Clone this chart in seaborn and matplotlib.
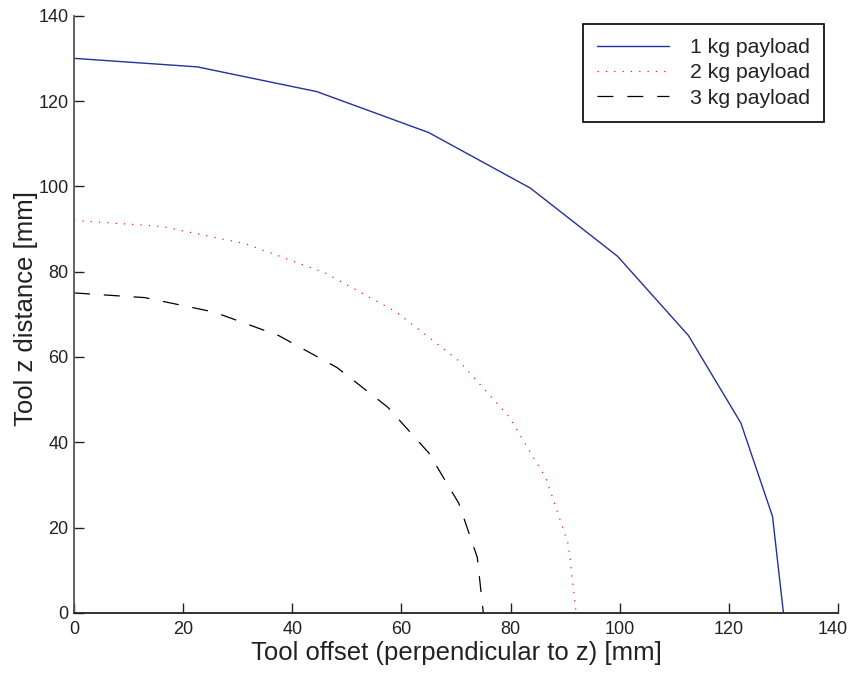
import matplotlib
matplotlib.use("Agg")
import matplotlib.pyplot as plt
import matplotlib.transforms as mtransforms
import seaborn as sns
import pandas as pd

# Data
x_1kg = [0.0, 22.6, 44.5, 65.0, 83.6, 99.6, 112.6, 122.2, 128.0, 130.0]
z_1kg = [130.0, 128.0, 122.2, 112.6, 99.6, 83.6, 65.0, 44.5, 22.6, 0.0]
x_2kg = [0.0, 16.0, 31.5, 46.0, 59.1, 70.5, 79.7, 86.5, 90.6, 92.0]
z_2kg = [92.0, 90.6, 86.5, 79.7, 70.5, 59.1, 46.0, 31.5, 16.0, 0.0]
x_3kg = [0.0, 13.0, 25.7, 37.5, 48.2, 57.5, 65.0, 70.5, 73.9, 75.0]
z_3kg = [75.0, 73.9, 70.5, 65.0, 57.5, 48.2, 37.5, 25.7, 13.0, 0.0]
labels = ["1 kg payload", "2 kg payload", "3 kg payload"]
ticks = [0, 20, 40, 60, 80, 100, 120, 140]

sns.set_style("ticks")
plt.rcParams['font.family'] = ['Liberation Sans', 'DejaVu Sans']
plt.rcParams['lines.scale_dashes'] = False

fig = plt.figure(figsize=(8.49, 6.73), dpi=100)
ax = fig.add_axes([74/849, 1-612.8/673, 764/849, (612.8-15.7)/673])

styles = [
    dict(color="#23319c", linestyle="-", linewidth=1.0),
    dict(color="#ff1a1a", linestyle=(0, (0.9, 5.1)), linewidth=0.9),
    dict(color="black", linestyle=(0, (11.5, 10.0)), linewidth=0.9),
]
for xs, zs, lab, st in zip([x_1kg, x_2kg, x_3kg], [z_1kg, z_2kg, z_3kg], labels, styles):
    df = pd.DataFrame({"x": xs, "z": zs})
    sns.lineplot(data=df, x="x", y="z", sort=False, ax=ax, label=lab, **st)

ax.set_xlim(0, 140)
ax.set_ylim(0, 140)
ax.set_xticks(ticks)
ax.set_yticks(ticks)
ax.tick_params(direction="in", length=7, width=1.0, labelsize=13, colors="#222222")
ax.tick_params(axis="x", pad=6)
ax.tick_params(axis="y", pad=4)
for s in ["top", "right"]:
    ax.spines[s].set_visible(False)
ax.spines["left"].set_color("#555555")
ax.spines["bottom"].set_color("#222222")
ax.spines["left"].set_linewidth(1.3)
ax.spines["bottom"].set_linewidth(1.3)

# keep the last x tick label inside the figure (as in the reference)
last = ax.xaxis.get_major_ticks()[-1].label1
last.set_transform(last.get_transform() +
                   mtransforms.ScaledTranslation(-5/100, 0, fig.dpi_scale_trans))

ax.set_xlabel("Tool offset (perpendicular to z) [mm]", fontsize=18.5, labelpad=2, color="#222222")
ax.set_ylabel("Tool z distance [mm]", fontsize=18.5, color="#222222")
ax.yaxis.set_label_coords(-0.047, 0.51)

leg = ax.legend(loc="upper right", bbox_to_anchor=(0.982, 0.9856), fontsize=15.3,
                handlelength=3.4, labelspacing=0.3, handletextpad=1.0, borderpad=0.65,
                borderaxespad=0.0,
                frameon=True, fancybox=False, edgecolor="black", framealpha=1)
leg.get_frame().set_linewidth(1.2)
for t in leg.get_texts():
    t.set_color("#222222")

fig.savefig("out.png", dpi=100)
